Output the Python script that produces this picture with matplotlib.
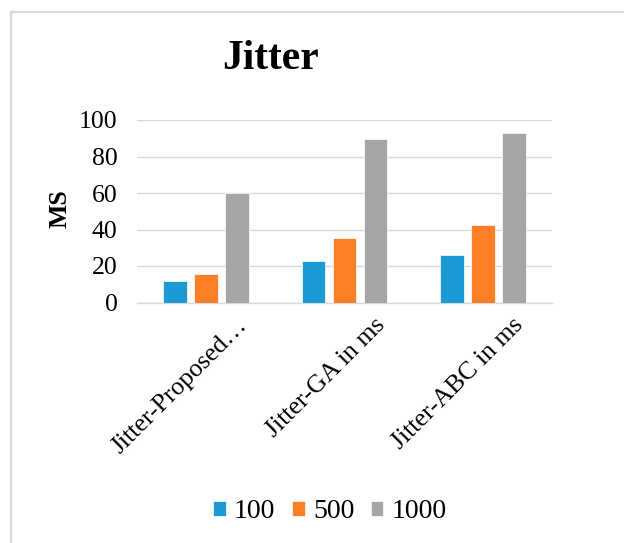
import matplotlib
matplotlib.use("Agg")
import matplotlib.pyplot as plt
import matplotlib.patches as mpatches
import matplotlib.transforms as mtransforms
import numpy as np

# data
categories = ["Jitter-Proposed\u2026", "Jitter-GA in ms", "Jitter-ABC in ms"]
series_names = ["100", "500", "1000"]
vals_100 = [12.0, 22.5, 26.1]
vals_500 = [15.7, 35.3, 42.2]
vals_1000 = [59.8, 89.4, 92.7]
colors = ["#1B9AD6", "#FE7F27", "#A5A5A5"]

plt.rcParams["font.family"] = ["Liberation Serif", "DejaVu Serif"]

W, H = 624, 543
fig = plt.figure(figsize=(W / 100, H / 100), dpi=100)
fig.patch.set_facecolor("white")

# chart area border (runs off the right/bottom edge)
border = mpatches.Rectangle((11 / W, -0.1), 1.2, (1 - 12 / H) + 0.1,
                            transform=fig.transFigure, fill=False,
                            edgecolor="#D9D9D9", linewidth=1.6, zorder=0)
fig.patches.append(border)

ax = fig.add_axes([137 / W, 1 - 302.5 / H, (552 - 137) / W, (302.5 - 120) / H])

x = np.arange(len(categories))
width = 0.173
step = 0.224
for i, (name, vals) in enumerate(zip(series_names, [vals_100, vals_500, vals_1000])):
    ax.bar(x + (i - 1) * step, vals, width, color=colors[i], label=name,
           edgecolor="#FFFFFF", linewidth=0.5, zorder=3)

ax.set_xlim(-0.5, 2.5)
ax.set_ylim(0, 100)
ax.set_yticks(range(0, 101, 20))
ax.grid(axis="y", color="#D9D9D9", linewidth=1.0, zorder=0)
for s in ["top", "right", "left"]:
    ax.spines[s].set_visible(False)
ax.spines["bottom"].set_color("#D9D9D9")
ax.spines["bottom"].set_linewidth(1.0)
ax.tick_params(axis="both", length=0, labelsize=18.5)
ax.tick_params(axis="y", pad=14)

ax.set_xticks(x)
ax.set_xticklabels(categories, rotation=45, ha="right", va="top")
offset = mtransforms.ScaledTranslation(45 / 100, -7 / 100, fig.dpi_scale_trans)
for lab in ax.get_xticklabels():
    lab.set_transform(lab.get_transform() + offset)

fig.text(271 / W, 1 - 59 / H, "Jitter", ha="center", va="center",
         fontsize=30, fontweight="bold")
fig.text(60 / W, 1 - 209 / H, "MS", ha="center", va="center",
         rotation=90, fontsize=18.5, fontweight="bold")

fig.legend(loc="center", bbox_to_anchor=(330 / W, 1 - 512 / H), ncol=3,
           frameon=False, fontsize=20, handlelength=0.45, handleheight=0.45,
           handletextpad=0.3, columnspacing=0.6)

fig.savefig("out.png", dpi=100, facecolor="white")
